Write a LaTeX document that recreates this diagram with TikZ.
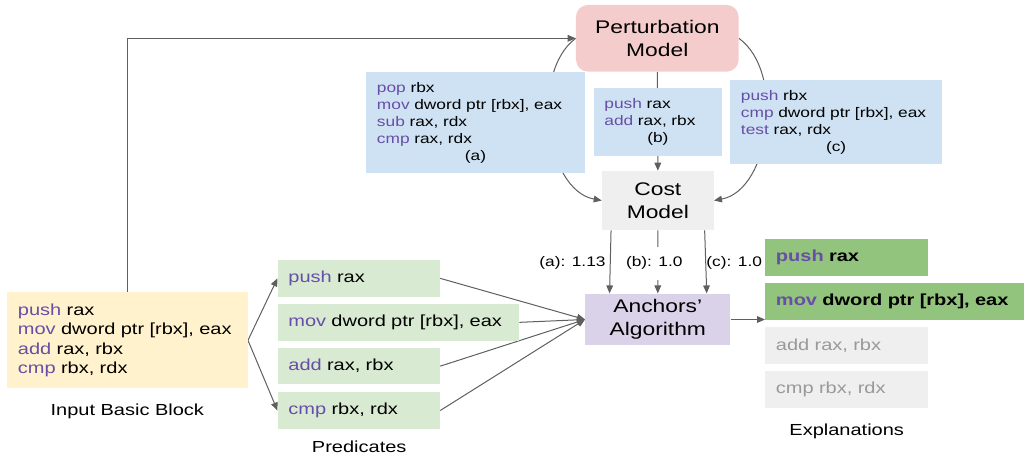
\documentclass[tikz,border=0pt]{standalone}
\usepackage{fontspec}
\setmainfont{Liberation Sans}[FakeStretch=1.25]
\usetikzlibrary{arrows.meta}
\definecolor{opc}{HTML}{674EA7}
\definecolor{linegray}{HTML}{5F5F5F}
\definecolor{bluebox}{HTML}{CFE2F3}
\definecolor{pinkbox}{HTML}{F4CCCC}
\definecolor{yellowbox}{HTML}{FFF2CC}
\definecolor{lgreenbox}{HTML}{D9EAD3}
\definecolor{greenbox}{HTML}{93C47D}
\definecolor{lgraybox}{HTML}{EFEFEF}
\definecolor{lavbox}{HTML}{D9D2E9}
\definecolor{txtgray}{HTML}{999999}
\newcommand\op[1]{\textcolor{opc}{#1}}
\newcommand\bodyfont{\fontsize{12pt}{14.7pt}\selectfont}
\newcommand\bluefont{\fontsize{10.4pt}{12.75pt}\selectfont}
\newcommand\titlefont{\fontsize{13.7pt}{17.5pt}\selectfont}
\pgfdeclarelayer{bg}
\pgfsetlayers{bg,main}
\tikzset{
  conn/.style={draw=linegray, line width=0.75pt},
  arr/.style={conn, -{Triangle[length=6pt,width=5pt]}},
  box/.style={inner ysep=0pt, inner xsep=8pt, align=left},
  titlebox/.style={inner sep=0pt, align=center, font=\titlefont},
  codebox/.style={box, fill=bluebox, font=\bluefont},
  predbox/.style={box, fill=lgreenbox, font=\bodyfont, minimum height=27.4pt, text width=105.7pt},
  expbox/.style={box, font=\bodyfont, minimum height=27.3pt, text width=105.8pt},
  caption/.style={inner sep=0pt, anchor=base, font=\bodyfont},
  score/.style={inner sep=0pt, anchor=base, font=\bluefont},
}
\begin{document}
\begin{tikzpicture}[x=0.75pt,y=-0.75pt]
\useasboundingbox (0,0) rectangle (1024,457);

% title boxes
\node[titlebox, fill=pinkbox, rounded corners=9pt, minimum width=122pt, minimum height=50pt] (pert) at (657.3,38.3) {Perturbation\\Model};
\node[titlebox, fill=lgraybox, minimum width=83.8pt, minimum height=44.3pt] (cost) at (657.85,200.5) {Cost\\Model};
\node[titlebox, fill=lavbox, minimum width=108.8pt, minimum height=38.7pt] (anch) at (657.8,319.5) {Anchors'\\Algorithm};

% perturbed blocks
\node[codebox, minimum height=76.2pt, text width=147.8pt] (ba) at (475.5,122.5)
  {\op{pop} rbx\\\op{mov} dword ptr [rbx], eax\\\op{sub} rax, rdx\\\op{cmp} rax, rdx\\\makebox[147.8pt]{(a)}};
\node[codebox, minimum height=50.8pt, text width=80.2pt] (bb) at (657.85,122.15)
  {\op{push} rax\\\op{add} rax, rbx\\\makebox[80.2pt]{(b)}};
\node[codebox, minimum height=63.2pt, text width=142.8pt] (bc) at (836.15,122.15)
  {\op{push} rbx\\\op{cmp} dword ptr [rbx], eax\\\op{test} rax, rdx\\\makebox[142.8pt]{(c)}};

% input block
\node[box, fill=yellowbox, font=\bodyfont, minimum height=72pt, text width=164.3pt] (inp) at (127.5,340.3)
  {\op{push} rax\\\op{mov} dword ptr [rbx], eax\\\op{add} rax, rbx\\\op{cmp} rbx, rdx};
\node[caption] (inpcap) at (127.3,415.7) {Input Basic Block};

% predicates
\node[predbox] (p1) at (358.85,278.35) {\op{push} rax};
\node[predbox, text width=165pt] (p2) at (398.35,322.35) {\op{mov} dword ptr [rbx], eax};
\node[predbox] (p3) at (358.85,366.15) {\op{add} rax, rbx};
\node[predbox] (p4) at (358.85,410.5) {\op{cmp} rbx, rdx};
\node[caption] (predcap) at (359.2,452.7) {Predicates};

% explanations
\node[expbox, fill=greenbox] (e1) at (846.5,257.5) {\textbf{\op{push} rax}};
\node[expbox, fill=greenbox, text width=178pt] (e2) at (894.65,301.3) {\textbf{\op{mov} dword ptr [rbx], eax}};
\node[expbox, fill=lgraybox, text=txtgray] (e3) at (846.5,345.3) {add rax, rbx};
\node[expbox, fill=lgraybox, text=txtgray] (e4) at (846.5,389.3) {cmp rbx, rdx};
\node[caption] (expcap) at (846.7,435) {Explanations};

% scores
\node[score] (sa) at (572.5,266.7) {(a): 1.13};
\node[score, fill=white, inner ysep=7.5pt] (sb) at (654.3,266.7) {(b): 1.0};
\node[score] (sc) at (734.2,266.7) {(c): 1.0};

\begin{pgfonlayer}{bg}
  \draw[arr] (inp.north) |- (pert.west);
  \draw[arr] (pert.west) .. controls (530,72) and (545,190) .. (cost.west);
  \draw[arr] (pert.east) .. controls (785.6,72) and (770.6,190) .. (cost.east);
  \draw[arr] (pert.south) -- (cost.north);
  \draw[arr] ([xshift=-35.1pt]cost.south) -- ([xshift=-36.2pt]anch.north);
  \draw[arr] (cost.south) -- (anch.north);
  \draw[arr] ([xshift=35.1pt]cost.south) -- ([xshift=36.7pt]anch.north);
  \draw[arr] (inp.east) -- (p1.west);
  \draw[arr] (inp.east) -- (p4.west);
  \draw[arr] (p1.east) -- (anch.west);
  \draw[arr] (p2.east) -- (anch.west);
  \draw[arr] (p3.east) -- (anch.west);
  \draw[arr] (p4.east) -- (anch.west);
  \draw[arr] (anch.east) -- (anch.east -| e2.west);
\end{pgfonlayer}
\end{tikzpicture}
\end{document}
